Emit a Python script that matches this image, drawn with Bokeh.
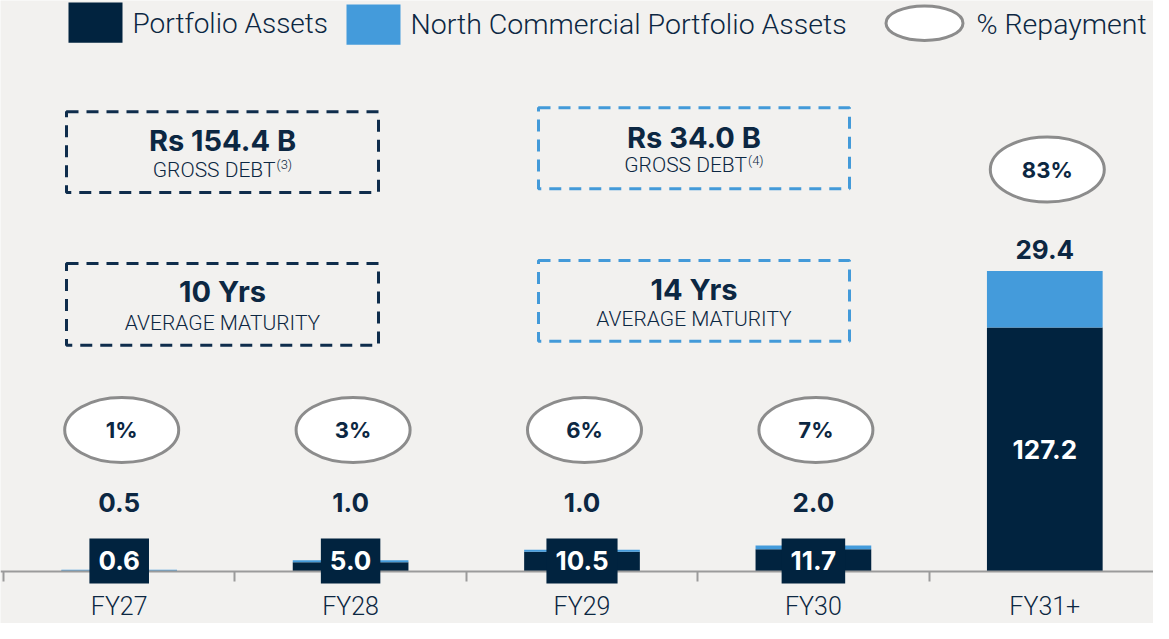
from bokeh.plotting import figure
from bokeh.models import Range1d, LinearAxis, FixedTicker, Label, ColumnDataSource
from bokeh.core.properties import value
from bokeh.embed import file_html
from bokeh.resources import INLINE

# ---------------- data ----------------
categories = ["FY27", "FY28", "FY29", "FY30", "FY31+"]
portfolio = [0.6, 5.0, 10.5, 11.7, 127.2]
north_commercial = [0.5, 1.0, 1.0, 2.0, 29.4]
repayment_pct = [1, 3, 6, 7, 83]
portfolio_summary = ["Rs 154.4 B", "10 Yrs"]
north_summary = ["Rs 34.0 B", "14 Yrs"]
summary_captions = ["GROSS DEBT", "AVERAGE MATURITY"]
footnotes = ["(3)", "(4)"]
legend_labels = ["Portfolio Assets", "North Commercial Portfolio Assets", "% Repayment"]

# ---------------- style ----------------
NAVY = "#01233f"
BLUE = "#449bdb"
TEXT = "#0c2742"
BG = "#f2f1ef"
ELL_LINE = "#8c8c8c"
AXIS = "#9b9b9b"
DASH_DARK = "#0f2d4c"
DASH_BLUE = "#439ad9"
BOLD = value("Inter")
LIGHT = value("Roboto Light")

W, H = 1153, 623
PX_CAT = 231.4     # pixels per category
PX_UNIT = 1.95     # pixels per Rs B (reference)
R_TOP = 10         # reference row shown at the top of the figure
S = 0.985          # slight vertical squeeze so the category labels fit


def XD(px):  # reference pixel -> data x
    return (px - 11) / PX_CAT


def YD(py):  # reference pixel -> data y
    return (590 - py) / PX_UNIT


def DW(px):
    return px / PX_CAT


def DH(px):
    return px / PX_UNIT


p = figure(width=W, height=H,
           x_range=Range1d(XD(8), XD(8 + W)),
           y_range=Range1d(YD(R_TOP + H / S), YD(R_TOP)),
           x_axis_type=None, y_axis_type=None, toolbar_location=None,
           output_backend="svg", min_border=0, outline_line_color=None,
           background_fill_color=BG, border_fill_color=BG)

xs = [i + 0.5 for i in range(len(categories))]
totals = [a + b for a, b in zip(portfolio, north_commercial)]
src = ColumnDataSource(dict(x=xs, cat=categories, port=portfolio,
                            ncp=north_commercial, total=totals))

p.vbar(x="x", width=0.5, bottom=0, top="port", source=src,
       fill_color=NAVY, line_color=None)
p.vbar(x="x", width=0.5, bottom="port", top="total", source=src,
       fill_color=BLUE, line_color=None)

# x axis at y = 0
xaxis = LinearAxis(fixed_location=0,
                   ticker=FixedTicker(ticks=xs, minor_ticks=list(range(len(categories) + 1))),
                   major_label_overrides={x: c for x, c in zip(xs, categories)})
xaxis.axis_line_color = AXIS
xaxis.axis_line_width = 2
xaxis.major_tick_in = 0
xaxis.major_tick_out = 0
xaxis.minor_tick_in = 0
xaxis.minor_tick_out = 10
xaxis.minor_tick_line_color = AXIS
xaxis.minor_tick_line_width = 2
xaxis.major_label_standoff = 10
xaxis.major_label_text_font = "Roboto Light"
xaxis.major_label_text_font_size = "25px"
xaxis.major_label_text_color = TEXT
p.add_layout(xaxis, "below")

# labels, per category
big = [t > 50 for t in totals]
ncp_label_y = [t + DH(22) if b else YD(520) for t, b in zip(totals, big)]
ell_y = [y + DH(81) if b else YD(446) for y, b in zip(ncp_label_y, big)]
ell_x = [x + DW(2.5) for x in xs]

p.ellipse(x=ell_x, y=ell_y, width=DW(114), height=DH(66),
          fill_color="white", line_color=ELL_LINE, line_width=3)
p.text(x=ell_x, y=ell_y, text=[f"{v}%" for v in repayment_pct],
       text_align="center", text_baseline="middle", text_font=BOLD,
       text_font_style="bold", text_font_size="22px", text_color=TEXT)

p.text(x=xs, y=ncp_label_y, text=[f"{v:.1f}" for v in north_commercial],
       text_align="center", text_baseline="middle", text_font=BOLD,
       text_font_style="bold", text_font_size="26px", text_color=TEXT)

for x, v, b in zip(xs, portfolio, big):
    if b:
        p.text(x=[x], y=[v / 2], text=[f"{v:.1f}"], text_align="center",
               text_baseline="middle", text_font=BOLD, text_font_style="bold",
               text_font_size="26px", text_color="white")
    else:
        p.add_layout(Label(x=x, y=YD(579), text=f"{v:.1f}", text_align="center",
                           text_baseline="middle", text_font="Inter",
                           text_font_style="bold", text_font_size="26px",
                           text_color="white", background_fill_color=NAVY,
                           padding=(9, 13)))

# summary boxes
boxes = [
    # (left, right, top, bottom, head_y, sub_y, color, head, caption, footnote)
    (74, 386, 123, 205, 152, 182, DASH_DARK, portfolio_summary[0], summary_captions[0], footnotes[0]),
    (74, 386, 277, 360, 305, 337, DASH_DARK, portfolio_summary[1], summary_captions[1], None),
    (546, 857, 119, 201, 149, 177, DASH_BLUE, north_summary[0], summary_captions[0], footnotes[1]),
    (546, 857, 274, 356, 303, 333, DASH_BLUE, north_summary[1], summary_captions[1], None),
]
for l, r, t, b, hy, sy, col, head, cap, fn in boxes:
    p.quad(left=XD(l), right=XD(r), top=YD(t), bottom=YD(b), fill_color=None,
           line_color=col, line_width=3, line_dash="12 8")
    cx = (l + r) / 2
    p.text(x=[XD(cx)], y=[YD(hy)], text=[head], text_align="center",
           text_baseline="middle", text_font=BOLD, text_font_style="bold",
           text_font_size="29px", text_color=TEXT)
    if fn is None:
        p.text(x=[XD(cx)], y=[YD(sy)], text=[cap], text_align="center",
               text_baseline="middle", text_font=LIGHT, text_font_size="21px",
               text_color=TEXT)
    else:
        p.text(x=[XD(cx + 53)], y=[YD(sy)], text=[cap], text_align="right",
               text_baseline="middle", text_font=LIGHT, text_font_size="21px",
               text_color=TEXT)
        p.text(x=[XD(cx + 54)], y=[YD(sy - 5)], text=[fn], text_align="left",
               text_baseline="middle", text_font=LIGHT, text_font_size="13px",
               text_color=TEXT)

# legend
p.quad(left=XD(76), right=XD(130), top=YD(12), bottom=YD(53), fill_color=NAVY, line_color=None)
p.text(x=[XD(140)], y=[YD(33)], text=[legend_labels[0]], text_baseline="middle",
       text_font=LIGHT, text_font_size="28px", text_color=TEXT)
p.quad(left=XD(354), right=XD(408), top=YD(14), bottom=YD(55), fill_color=BLUE, line_color=None)
p.text(x=[XD(418)], y=[YD(34)], text=[legend_labels[1]], text_baseline="middle",
       text_font=LIGHT, text_font_size="28.5px", text_color=TEXT)
p.ellipse(x=[XD(932)], y=[YD(33)], width=DW(77), height=DH(35), fill_color="white",
          line_color=ELL_LINE, line_width=3)
p.text(x=[XD(984)], y=[YD(34)], text=[legend_labels[2]], text_baseline="middle",
       text_font=LIGHT, text_font_size="28.5px", text_color=TEXT)

open("out.html", "w").write(file_html(p, INLINE))
